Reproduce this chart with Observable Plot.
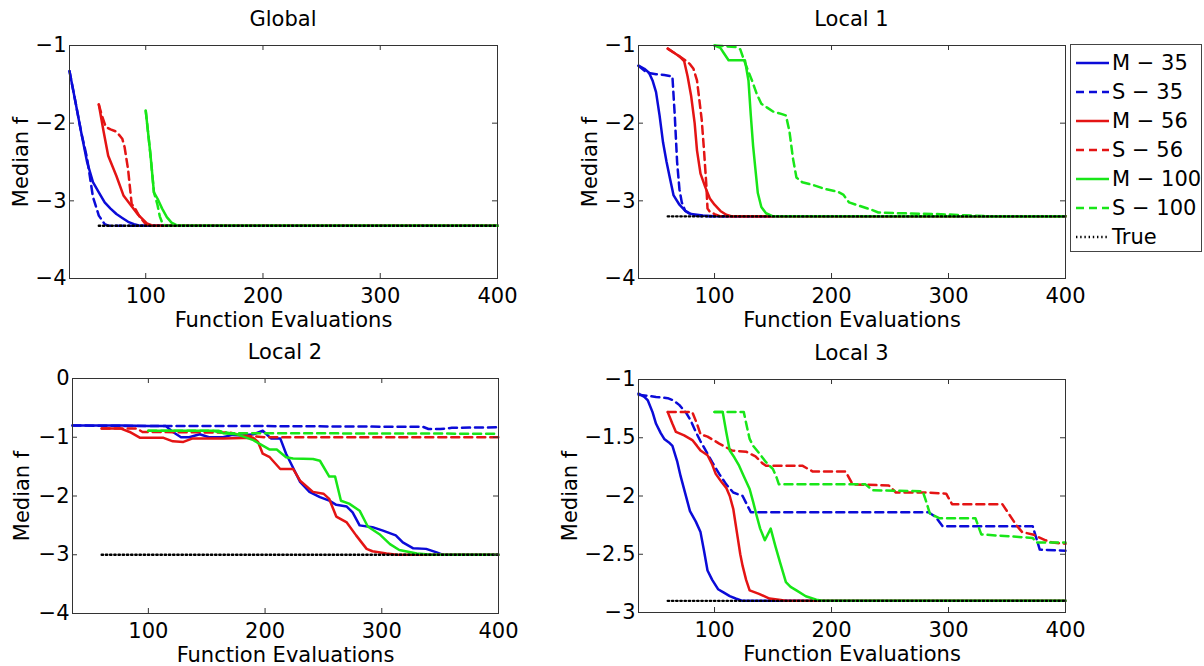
<!DOCTYPE html>
<html><head><meta charset="utf-8">
<script src="https://cdn.jsdelivr.net/npm/d3@7"></script>
<script src="https://cdn.jsdelivr.net/npm/@observablehq/plot@0.6"></script>
<style>
body{margin:0;background:#fff;font-family:"DejaVu Sans",sans-serif;}
#fig{position:relative;width:1204px;height:666px;overflow:hidden;background:#fff}
.panel{position:absolute}
.title{position:absolute;font-size:21px;color:#000;transform:translate(-50%,-50%);white-space:nowrap}
#legend{position:absolute;left:1070px;top:44px;width:132px;height:208px;border:1px solid #444;background:#fff;box-sizing:border-box}
.row{position:absolute;left:5px;height:29px;display:flex;align-items:center;font-size:21px;color:#000;white-space:nowrap}
.row svg{margin-right:3px}
</style></head><body><div id="fig"></div>
<script>
// ---------- data ----------
const seriesNames = ["M − 35", "S − 35", "M − 56", "S − 56", "M − 100", "S − 100", "True"];
const seriesColors = ["#0b0bd8", "#0b0bd8", "#e41414", "#e41414", "#18e618", "#18e618", "#000000"];
const seriesDash = [null, "8,5", null, "8,5", null, "8,5", "1.4,2.8"];

const xTicks = [100, 200, 300, 400];
const panelTitles = ["Global", "Local 1", "Local 2", "Local 3"];
const yDomains = [[-4, -1], [-4, -1], [-4, 0], [-3, -1]];
const yTicksList = [[-4, -3, -2, -1], [-4, -3, -2, -1], [-4, -3, -2, -1, 0], [-3, -2.5, -2, -1.5, -1]];
const trueValues = [-3.32, -3.2, -3.0, -2.9];
const trueStart = 60;
const xEnd = 400;

// Global
const gM35 = [[35,-1.33],[40,-1.72],[45,-2.12],[50,-2.5],[55,-2.76],[60,-2.89],[65,-3.02],[70,-3.1],[75,-3.17],[80,-3.22],[85,-3.27],[90,-3.3],[95,-3.32],[400,-3.32]];
const gS35 = [[35,-1.33],[40,-1.72],[45,-2.12],[50,-2.45],[55,-2.95],[60,-3.19],[65,-3.3],[68,-3.32],[400,-3.32]];
const gM56 = [[60,-1.76],[64,-2.1],[68,-2.42],[75,-2.68],[81,-2.93],[87,-3.05],[93,-3.17],[101,-3.29],[106,-3.32],[400,-3.32]];
const gS56 = [[60,-1.76],[63,-1.92],[66,-2.05],[70,-2.08],[75,-2.11],[80,-2.2],[82,-2.31],[85,-2.6],[88,-3.04],[91,-3.1],[95,-3.21],[100,-3.3],[104,-3.32],[400,-3.32]];
const gM100 = [[100,-1.84],[104,-2.4],[107,-2.89],[110,-2.97],[114,-3.1],[118,-3.21],[122,-3.28],[127,-3.32],[400,-3.32]];
const gS100 = [[100,-1.84],[104,-2.4],[107,-2.89],[110,-3.05],[112,-3.2],[114,-3.28],[117,-3.32],[400,-3.32]];

// Local 1
const l1M35 = [[35,-1.26],[40,-1.3],[44,-1.35],[47,-1.45],[50,-1.6],[53,-1.9],[56,-2.25],[59,-2.5],[62,-2.72],[65,-2.93],[70,-3.05],[75,-3.13],[80,-3.17],[90,-3.19],[100,-3.2],[400,-3.2]];
const l1S35 = [[35,-1.26],[42,-1.35],[50,-1.37],[57,-1.38],[64,-1.4],[66,-1.9],[68,-2.5],[70,-2.85],[72,-3.02],[75,-3.13],[80,-3.18],[90,-3.2],[400,-3.2]];
const l1M56 = [[60,-1.04],[65,-1.09],[70,-1.14],[74,-1.2],[77,-1.4],[80,-1.65],[83,-2.0],[85,-2.35],[88,-2.65],[92,-2.82],[96,-2.97],[100,-3.05],[105,-3.13],[110,-3.18],[115,-3.2],[400,-3.2]];
const l1S56 = [[60,-1.04],[65,-1.09],[70,-1.14],[75,-1.19],[79,-1.24],[82,-1.3],[85,-1.45],[87,-1.7],[89,-1.95],[91,-2.35],[93,-2.8],[94,-3.1],[96,-3.14],[100,-3.17],[105,-3.2],[400,-3.2]];
const l1M100 = [[100,-1.0],[105,-1.03],[108,-1.1],[112,-1.19],[126,-1.19],[129,-1.45],[131,-1.9],[133,-2.3],[135,-2.6],[137,-2.9],[140,-3.08],[144,-3.16],[150,-3.2],[400,-3.2]];
const l1S100 = [[100,-1.0],[110,-1.01],[118,-1.02],[122,-1.05],[125,-1.18],[128,-1.3],[132,-1.45],[136,-1.62],[140,-1.75],[145,-1.8],[150,-1.85],[157,-1.88],[161,-1.9],[164,-2.1],[167,-2.45],[170,-2.7],[175,-2.76],[185,-2.8],[195,-2.85],[205,-2.88],[210,-2.92],[215,-3.02],[225,-3.07],[235,-3.12],[240,-3.15],[260,-3.16],[290,-3.17],[320,-3.19],[340,-3.2],[400,-3.2]];

// Local 2
const l2M35 = [[35,-0.8],[60,-0.8],[80,-0.8],[100,-0.81],[115,-0.81],[121,-0.91],[128,-1.0],[135,-1.0],[144,-0.95],[152,-1.0],[164,-1.0],[172,-0.96],[181,-0.97],[190,-0.95],[198,-0.89],[205,-1.02],[213,-1.02],[218,-1.28],[224,-1.52],[230,-1.76],[238,-1.93],[247,-2.02],[255,-2.08],[261,-2.15],[270,-2.18],[275,-2.28],[281,-2.5],[292,-2.53],[301,-2.59],[312,-2.67],[318,-2.79],[327,-2.89],[338,-2.9],[347,-2.96],[352,-3.0],[400,-3.0]];
const l2S35 = [[35,-0.8],[100,-0.81],[200,-0.81],[300,-0.82],[335,-0.82],[340,-0.86],[350,-0.86],[360,-0.84],[400,-0.83]];
const l2M56 = [[60,-0.85],[76,-0.85],[84,-0.91],[93,-1.01],[113,-1.01],[121,-1.07],[130,-1.08],[138,-1.02],[164,-1.02],[190,-1.01],[194,-1.08],[198,-1.28],[204,-1.34],[213,-1.54],[224,-1.54],[230,-1.74],[241,-1.93],[250,-1.96],[255,-2.05],[261,-2.35],[270,-2.45],[278,-2.67],[287,-2.9],[292,-2.94],[304,-2.98],[313,-3.0],[400,-3.0]];
const l2S56 = [[60,-0.85],[90,-0.85],[95,-0.91],[170,-0.92],[180,-0.97],[200,-1.0],[400,-1.0]];
const l2M100 = [[100,-0.89],[155,-0.89],[164,-0.93],[176,-0.95],[190,-1.05],[195,-1.11],[204,-1.21],[210,-1.21],[218,-1.34],[224,-1.36],[241,-1.37],[247,-1.4],[255,-1.67],[260,-1.67],[265,-2.08],[272,-2.13],[281,-2.25],[288,-2.52],[298,-2.65],[307,-2.82],[315,-2.92],[330,-2.98],[343,-3.0],[400,-3.0]];
const l2S100 = [[100,-0.89],[160,-0.89],[170,-0.93],[400,-0.94]];

// Local 3
const l3M35 = [[35,-1.12],[40,-1.15],[43,-1.18],[47,-1.28],[50,-1.38],[54,-1.46],[57,-1.51],[61,-1.54],[64,-1.57],[68,-1.7],[71,-1.83],[75,-1.98],[79,-2.13],[84,-2.22],[88,-2.31],[91,-2.47],[94,-2.64],[98,-2.72],[103,-2.8],[108,-2.83],[113,-2.86],[118,-2.88],[124,-2.9],[400,-2.9]];
const l3S35 = [[35,-1.13],[50,-1.15],[60,-1.16],[65,-1.18],[70,-1.22],[76,-1.29],[80,-1.36],[84,-1.45],[88,-1.53],[93,-1.62],[98,-1.71],[104,-1.81],[110,-1.9],[116,-1.97],[124,-2.0],[128,-2.08],[131,-2.14],[200,-2.14],[283,-2.14],[289,-2.18],[295,-2.26],[372,-2.26],[375,-2.36],[378,-2.46],[400,-2.47]];
const l3M56 = [[60,-1.28],[64,-1.38],[67,-1.45],[74,-1.48],[81,-1.52],[85,-1.57],[88,-1.61],[94,-1.65],[98,-1.73],[101,-1.81],[106,-1.88],[110,-1.93],[113,-2.0],[116,-2.11],[118,-2.24],[120,-2.37],[122,-2.5],[124,-2.6],[127,-2.72],[130,-2.81],[138,-2.84],[147,-2.88],[155,-2.89],[161,-2.9],[400,-2.9]];
const l3S56 = [[60,-1.28],[81,-1.28],[85,-1.38],[88,-1.47],[94,-1.49],[104,-1.55],[115,-1.61],[127,-1.62],[135,-1.66],[141,-1.72],[144,-1.74],[175,-1.74],[184,-1.79],[212,-1.79],[218,-1.9],[249,-1.91],[255,-1.97],[281,-1.97],[298,-1.98],[303,-2.07],[346,-2.07],[352,-2.16],[358,-2.25],[363,-2.31],[372,-2.33],[383,-2.38],[389,-2.4],[400,-2.41]];
const l3M100 = [[100,-1.28],[107,-1.28],[110,-1.45],[113,-1.61],[117,-1.67],[121,-1.74],[125,-1.83],[130,-1.94],[133,-2.05],[136,-2.17],[139,-2.28],[143,-2.38],[148,-2.28],[152,-2.43],[156,-2.57],[161,-2.74],[165,-2.78],[170,-2.81],[178,-2.86],[187,-2.89],[192,-2.9],[400,-2.9]];
const l3S100 = [[100,-1.28],[125,-1.28],[128,-1.42],[130,-1.51],[133,-1.57],[138,-1.63],[144,-1.71],[150,-1.77],[153,-1.84],[155,-1.9],[229,-1.9],[235,-1.95],[278,-1.96],[281,-2.05],[284,-2.15],[292,-2.19],[323,-2.19],[328,-2.33],[358,-2.35],[372,-2.36],[375,-2.4],[400,-2.4]];

const panelSeries = [
  [gM35, gS35, gM56, gS56, gM100, gS100],
  [l1M35, l1S35, l1M56, l1S56, l1M100, l1S100],
  [l2M35, l2S35, l2M56, l2S56, l2M100, l2S100],
  [l3M35, l3S35, l3M56, l3S56, l3M100, l3S100]
];

// ---------- layout (styles only) ----------
const layouts = [
  {left: 0,   top: 0,   width: 520, height: 330, mL: 69, mR: 23, mT: 45, mB: 52, yLab: 56},
  {left: 560, top: 0,   width: 520, height: 330, mL: 78, mR: 15, mT: 45, mB: 52, yLab: 56},
  {left: 0,   top: 330, width: 520, height: 336, mL: 72, mR: 22, mT: 48, mB: 53, yLab: 58},
  {left: 560, top: 330, width: 520, height: 336, mL: 78, mR: 15, mT: 49, mB: 54, yLab: 76}
];

const fmt = d => (d < 0 ? "−" : "") + Math.abs(d);
const fig = document.getElementById("fig");
const axisColor = "#333";
const FS = 21;

panelSeries.forEach((series, p) => {
  const L = layouts[p];
  const innerH = L.height - L.mT - L.mB;
  const innerW = L.width - L.mL - L.mR;
  const trueLine = [[trueStart, trueValues[p]], [xEnd, trueValues[p]]];
  const all = [...series, trueLine];
  const yTicks = yTicksList[p];
  const marks = [
    ...all.map((data, i) => Plot.line(data, {
      x: d => d[0], y: d => d[1],
      stroke: seriesColors[i],
      strokeWidth: i === 6 ? 2.4 : 2.5,
      strokeDasharray: seriesDash[i]
    })),
    Plot.tickX(xTicks, {x: d => d, insetTop: innerH - 5, stroke: axisColor}),
    Plot.tickX(xTicks, {x: d => d, insetBottom: innerH - 5, stroke: axisColor}),
    Plot.tickY(yTicks, {y: d => d, insetRight: innerW - 5, stroke: axisColor}),
    Plot.tickY(yTicks, {y: d => d, insetLeft: innerW - 5, stroke: axisColor}),
    Plot.frame({stroke: axisColor, strokeWidth: 1}),
    Plot.axisX(xTicks, {tickSize: 0, tickPadding: 10, fontSize: FS, label: "Function Evaluations",
      labelAnchor: "center", labelOffset: 48, labelArrow: "none"}),
    Plot.axisY(yTicks, {tickSize: 0, tickPadding: 3, fontSize: FS, tickFormat: fmt, label: "Median f",
      labelAnchor: "center", labelOffset: L.yLab, labelArrow: "none"})
  ];
  const chart = Plot.plot({
    width: L.width, height: L.height,
    marginLeft: L.mL, marginRight: L.mR, marginTop: L.mT, marginBottom: L.mB,
    x: {domain: [35, xEnd]},
    y: {domain: yDomains[p]},
    style: {fontFamily: "'DejaVu Sans', sans-serif", fontSize: FS + "px", color: "#000", background: "transparent", overflow: "visible"},
    marks
  });
  chart.classList.add("panel");
  chart.style.left = L.left + "px";
  chart.style.top = L.top + "px";
  fig.appendChild(chart);

  const t = document.createElement("div");
  t.className = "title";
  t.textContent = panelTitles[p];
  t.style.left = (L.left + L.mL + innerW / 2) + "px";
  t.style.top = (L.top + L.mT - 26) + "px";
  fig.appendChild(t);
});

// legend
const legend = document.createElement("div");
legend.id = "legend";
seriesNames.forEach((name, i) => {
  const row = document.createElement("div");
  row.className = "row";
  row.style.top = (3 + i * 29) + "px";
  const ns = "http://www.w3.org/2000/svg";
  const s = document.createElementNS(ns, "svg");
  s.setAttribute("width", 33); s.setAttribute("height", 10);
  const ln = document.createElementNS(ns, "line");
  ln.setAttribute("x1", 0); ln.setAttribute("x2", 33);
  ln.setAttribute("y1", 5); ln.setAttribute("y2", 5);
  ln.setAttribute("stroke", seriesColors[i]);
  ln.setAttribute("stroke-width", 2.6);
  if (seriesDash[i]) ln.setAttribute("stroke-dasharray", seriesDash[i]);
  s.appendChild(ln);
  row.appendChild(s);
  const tx = document.createElement("span");
  tx.textContent = name;
  row.appendChild(tx);
  legend.appendChild(row);
});
fig.appendChild(legend);
</script>
</body></html>
